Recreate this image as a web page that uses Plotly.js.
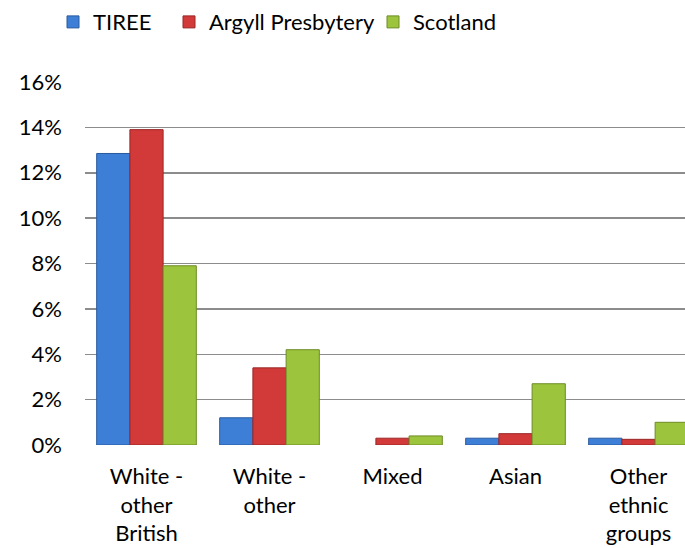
<!DOCTYPE html>
<html>
<head>
<meta charset="utf-8">
<script src="https://cdn.plot.ly/plotly-3.0.1.min.js"></script>
<style>html,body{margin:0;padding:0;background:#fff;}#chart{width:685px;height:548px;}</style>
</head>
<body>
<div id="chart"></div>
<script>
const categories = ["White -<br>other<br>British", "White -<br>other", "Mixed", "Asian", "Other<br>ethnic<br>groups"];
const seriesNames = ["TIREE", "Argyll Presbytery", "Scotland"];
const tiree = [12.85, 1.2, 0, 0.3, 0.3];
const argyll = [13.9, 3.4, 0.3, 0.5, 0.25];
const scotland = [7.9, 4.2, 0.4, 2.7, 1.0];
const tickVals = [0, 2, 4, 6, 8, 10, 12, 14, 16];
const tickText = ["0%", "2%", "4%", "6%", "8%", "10%", "12%", "14%", "16%"];

const fills = ["#3d7fd6", "#d23a3a", "#9cc43c"];
const edges = ["#2a5a9e", "#9a2626", "#6d8c26"];
const seriesValues = [tiree, argyll, scotland];
const legendIds = ["legend", "legend2", "legend3"];

const xIdx = categories.map((c, i) => i);
const traces = seriesValues.map((vals, k) => ({
  type: "bar",
  name: seriesNames[k],
  x: xIdx,
  y: vals,
  legend: legendIds[k],
  marker: {color: fills[k], line: {color: edges[k], width: vals.map(v => v > 0 ? 1 : 0)}}
}));

const font = {family: "Lato, 'Open Sans', sans-serif", size: 22, color: "#000"};
const legendBase = {orientation: "h", yanchor: "middle", y: 1.165, xanchor: "left",
  font: font, itemwidth: 30, bgcolor: "rgba(0,0,0,0)", borderwidth: 0};

const layout = {
  width: 685, height: 548,
  margin: {l: 85, r: 0, t: 82, b: 103},
  paper_bgcolor: "#fff", plot_bgcolor: "#fff",
  font: font,
  barmode: "group",
  bargap: 0.19,
  bargroupgap: 0,
  showlegend: true,
  legend: Object.assign({}, legendBase, {x: (93 - 85 - 40) / 600}),
  legend2: Object.assign({}, legendBase, {x: (209 - 85 - 40) / 600}),
  legend3: Object.assign({}, legendBase, {x: (413 - 85 - 40) / 600}),
  xaxis: {
    range: [-0.5, -0.5 + 600 / 123],
    tickmode: "array", tickvals: xIdx, ticktext: categories,
    showgrid: false, zeroline: false, showline: false, ticks: "",
    tickfont: font, ticklabelstandoff: 16, fixedrange: true
  },
  yaxis: {
    range: [0, 16],
    tickmode: "array", tickvals: tickVals, ticktext: tickText,
    showgrid: true, gridcolor: "#8c8c8c", gridwidth: 1.5,
    zeroline: false, showline: false, ticks: "",
    tickfont: font, ticklabelstandoff: 22, fixedrange: true
  }
};

Plotly.newPlot("chart", traces, layout, {staticPlot: true, displayModeBar: false});
</script>
</body>
</html>
